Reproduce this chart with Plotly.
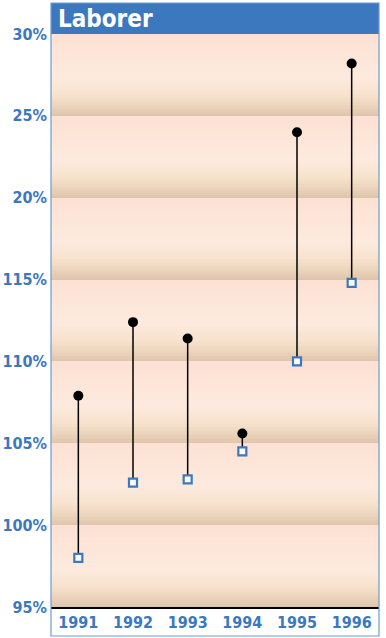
import plotly.graph_objects as go
import numpy as np

years = ["1991", "1992", "1993", "1994", "1995", "1996"]
high_values = [107.9, 112.4, 111.4, 105.6, 124.0, 128.2]
low_values = [98.0, 102.6, 102.8, 104.5, 110.0, 114.8]
tick_values = [95, 100, 105, 110, 115, 120, 125, 130]
tick_labels = ["95%", "100%", "105%", "110%", "115%", "20%", "25%", "30%"]

BLUE = "#3C78BE"
FRAME = "#6E9BD2"
FONT = "DejaVu Sans Condensed, Roboto, sans-serif"

# gradient stops within one band (0 = band bottom, 1 = band top)
gradient_scale = [
    [0.0, "rgb(222,196,170)"],
    [0.08, "rgb(232,208,184)"],
    [0.25, "rgb(247,226,204)"],
    [0.45, "rgb(253,234,222)"],
    [0.65, "rgb(253,231,218)"],
    [1.0, "rgb(252,225,212)"],
]

# fine rows across every 5-point band, shaded by position inside the band
rows_per_band = 60
band_y, band_t = [], []
for lo, hi in zip(tick_values[:-1], tick_values[1:]):
    h = (hi - lo) / rows_per_band
    for i in range(rows_per_band):
        band_y.append(lo + (i + 0.5) * h)
        band_t.append((i + 0.5) / rows_per_band)
band_z = [[t] * len(years) for t in band_t]

plot_h = 638 - 34 - 31
shapes = [
    # title bar above the plot area
    dict(type="rect", xref="paper", yref="paper",
         x0=0, x1=1, y0=1, y1=1 + 31 / plot_h,
         fillcolor=BLUE, line=dict(width=0)),
    # outer frame around the plot and year labels
    dict(type="rect", xref="paper", yref="paper",
         x0=0, x1=1, y0=-29 / plot_h, y1=1 + 31 / plot_h,
         fillcolor="rgba(0,0,0,0)", line=dict(color=FRAME, width=1.2)),
]

fig = go.Figure()

fig.add_trace(go.Heatmap(x=years, y=band_y, z=band_z, zmin=0, zmax=1,
                         colorscale=gradient_scale, showscale=False,
                         hoverinfo="skip"))

# connecting stems
stem_x, stem_y = [], []
for yr, hv, lv in zip(years, high_values, low_values):
    stem_x += [yr, yr, None]
    stem_y += [lv, hv, None]
fig.add_trace(go.Scatter(x=stem_x, y=stem_y, mode="lines",
                         line=dict(color="black", width=1.5),
                         hoverinfo="skip", showlegend=False))

fig.add_trace(go.Scatter(x=years, y=low_values, mode="markers",
                         marker=dict(symbol="square", size=8, color="white",
                                     line=dict(color=BLUE, width=2.2)),
                         showlegend=False))
fig.add_trace(go.Scatter(x=years, y=high_values, mode="markers",
                         marker=dict(symbol="circle", size=10, color="black"),
                         showlegend=False))

fig.update_layout(
    width=386, height=638,
    margin=dict(l=51, r=7, t=34, b=31),
    paper_bgcolor="white", plot_bgcolor="white",
    shapes=shapes,
    annotations=[dict(text="<b>Laborer</b>", xref="paper", yref="paper",
                      x=0.015, y=1 + 15 / plot_h, xanchor="left", yanchor="middle",
                      showarrow=False,
                      font=dict(family=FONT, size=24, color="white"))],
    xaxis=dict(type="category", range=[-0.5, 5.5], showgrid=False,
               showline=True, linecolor="black", linewidth=1.5,
               ticks="", tickfont=dict(family=FONT, size=16, color=BLUE),
               tickprefix="<b>", ticksuffix="</b>", fixedrange=True,
               automargin=False),
    yaxis=dict(range=[95, 130], tickvals=tick_values,
               ticktext=[f"<b>{t}</b>" for t in tick_labels],
               showgrid=False, zeroline=False, showline=False, ticks="",
               tickfont=dict(family=FONT, size=16, color=BLUE),
               ticklabelstandoff=3, fixedrange=True, automargin=False),
    showlegend=False,
)

fig.write_html("out.html")
